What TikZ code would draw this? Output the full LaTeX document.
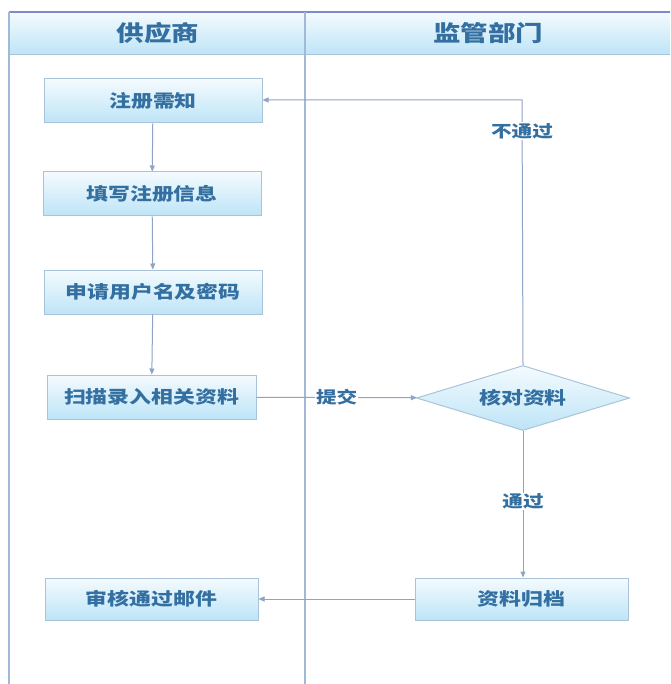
\documentclass[tikz,border=0pt]{standalone}
\usepackage{fontspec}
\newfontfamily\cjk[FakeStretch=1.25]{Noto Sans CJK SC}
\usetikzlibrary{shapes.geometric,arrows.meta}
\definecolor{txt}{HTML}{336FA0}
\definecolor{bord}{HTML}{A9C4D9}
\definecolor{lnk}{HTML}{8FA3C6}
\definecolor{frame}{HTML}{7F8BC8}
\definecolor{boxtop}{HTML}{F4FBFE}
\definecolor{boxbot}{HTML}{BDE4F7}
\tikzset{
  procbox/.style={draw=bord, line width=1pt, top color=boxtop, bottom color=boxbot,
    minimum width=218pt, minimum height=44pt, font=\cjk\fontsize{17.5}{20}\selectfont\bfseries, text=txt},
  decbox/.style={diamond, aspect=3.3, draw=bord, line width=1pt, top color=boxtop, bottom color=boxbot,
    minimum width=213pt, minimum height=65pt, inner sep=0pt, font=\cjk\fontsize{17.5}{20}\selectfont\bfseries, text=txt},
  link/.style={draw=lnk, line width=1pt, -{Triangle[length=6pt,width=5pt]}},
  lbl/.style={font=\cjk\fontsize{16.5}{20}\selectfont\bfseries, text=txt, fill=white, inner sep=1pt},
  head/.style={font=\cjk\fontsize{22}{26}\selectfont\bfseries, text=txt}
}
\begin{document}
\begin{tikzpicture}[x=1pt,y=-1pt]
\useasboundingbox (0,0) rectangle (670,684);
\fill[white] (0,0) rectangle (670,684);
% header
\shade[top color=boxtop, bottom color=boxbot] (9,12) rectangle (670,55);
\draw[bord, line width=1pt] (9,55) -- (670,55);
\draw[frame, line width=1.5pt] (9,12) -- (670,12);
\draw[bord!80!frame, line width=1.2pt] (9,12) -- (9,684);
\draw[bord!80!frame, line width=1.2pt] (305,12) -- (305,684);
\node[head] (h1) at (158,33) {供应商};
\node[head] (h2) at (488,33) {监管部门};
% nodes
\node[procbox] (n1) at (153,101) {注册需知};
\node[procbox] (n2) at (152,194) {填写注册信息};
\node[procbox] (n3) at (153,292) {申请用户名及密码};
\node[procbox, minimum width=209pt] (n4) at (151.5,397) {扫描录入相关资料};
\node[procbox, minimum width=213pt, minimum height=42pt] (n5) at (151.5,599) {审核通过邮件};
\node[decbox] (d1) at (523,398) {核对资料};
\node[procbox, minimum width=213pt, minimum height=42pt] (n6) at (521.5,599) {资料归档};
\coordinate (c1) at (522,100);
% links
\draw[link] (n1) -- (n2);
\draw[link] (n2) -- (n3);
\draw[link] (n3) -- (n4);
\draw[link] (n4) -- node[lbl, pos=0.5] {提交} (d1);
\draw[link] (d1.north) -- (c1) -- (n1.east |- c1);
\node[lbl] (l1) at (522,131) {不通过};
\draw[link] (d1.south) -- node[lbl, pos=0.48] {通过} (n6.north -| d1.south);
\draw[link] (n6) -- (n5);
\end{tikzpicture}
\end{document}
